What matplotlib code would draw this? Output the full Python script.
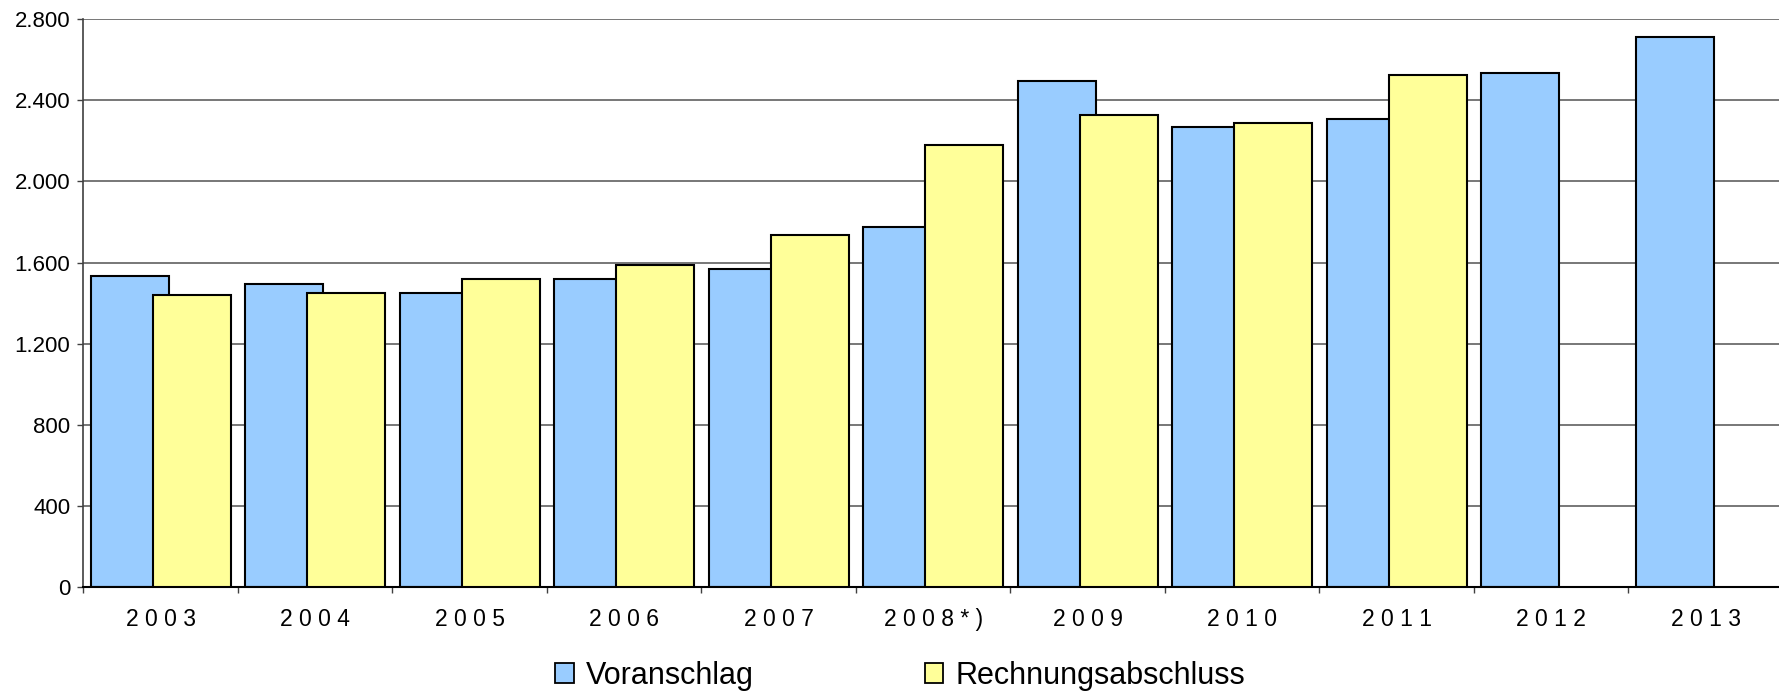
import numpy as np
import matplotlib
matplotlib.use("Agg")
import matplotlib.pyplot as plt
from matplotlib.patches import Patch
from matplotlib.ticker import FuncFormatter

plt.rcParams['font.family'] = ['Liberation Sans', 'DejaVu Sans']

years = ["2003", "2004", "2005", "2006", "2007", "2008*)", "2009", "2010", "2011", "2012", "2013"]
voranschlag = [1532, 1493, 1451, 1520, 1570, 1777, 2496, 2269, 2309, 2535, 2711]
rechnungsabschluss = [1442, 1452, 1520, 1588, 1737, 2181, 2327, 2288, 2524, np.nan, np.nan]

BLUE = "#99CCFF"
YELLOW = "#FFFF99"

fig = plt.figure(figsize=(17.79, 6.91), dpi=100)
ax = fig.add_axes([0.0469, 0.1501, 0.9553, 0.8224])

x = np.arange(len(years))
width = 0.505
ax.bar(x - 0.2, voranschlag, width, color=BLUE, edgecolor="black", linewidth=1.5, zorder=2)
ax.bar(x + 0.2, rechnungsabschluss, width, color=YELLOW, edgecolor="black", linewidth=1.5, zorder=3)

ax.set_xlim(-0.5, len(years) - 0.5)
ax.set_ylim(0, 2800)
ax.set_yticks(np.arange(0, 2801, 400))
ax.yaxis.set_major_formatter(FuncFormatter(lambda v, p: f"{int(v):,}".replace(",", ".")))
ax.grid(axis="y", color="#606060", linewidth=1.2, zorder=0)
ax.set_axisbelow(True)

# labels at category centres, tick marks at category boundaries
ax.set_xticks(x)
ax.set_xticklabels([" ".join(y) for y in years])
ax.set_xticks(np.arange(-0.5, len(years), 1), minor=True)
ax.tick_params(axis="x", which="major", direction="in", length=2.5, color="#808080",
               labelsize=16.5, pad=15)
ax.tick_params(axis="x", which="minor", direction="out", length=4.5, color="#404040", width=1)
ax.tick_params(axis="y", direction="out", length=4.5, color="#404040", width=1,
               labelsize=16, pad=5)

for s in ["top", "right"]:
    ax.spines[s].set_visible(False)
ax.spines["left"].set_color("#404040")
ax.spines["left"].set_linewidth(1.2)
ax.spines["bottom"].set_color("black")
ax.spines["bottom"].set_linewidth(1.5)

handles = [Patch(facecolor=BLUE, edgecolor="black", linewidth=1.3, label="Voranschlag"),
           Patch(facecolor=YELLOW, edgecolor="black", linewidth=1.3, label="Rechnungsabschluss")]
fig.legend(handles=handles, loc="center", bbox_to_anchor=(0.506, 0.022), ncol=2,
           frameon=False, fontsize=22, handlelength=0.6, handleheight=0.6,
           handletextpad=0.4, columnspacing=5.6, borderaxespad=0, borderpad=0)

fig.savefig("out.png", dpi=100)
